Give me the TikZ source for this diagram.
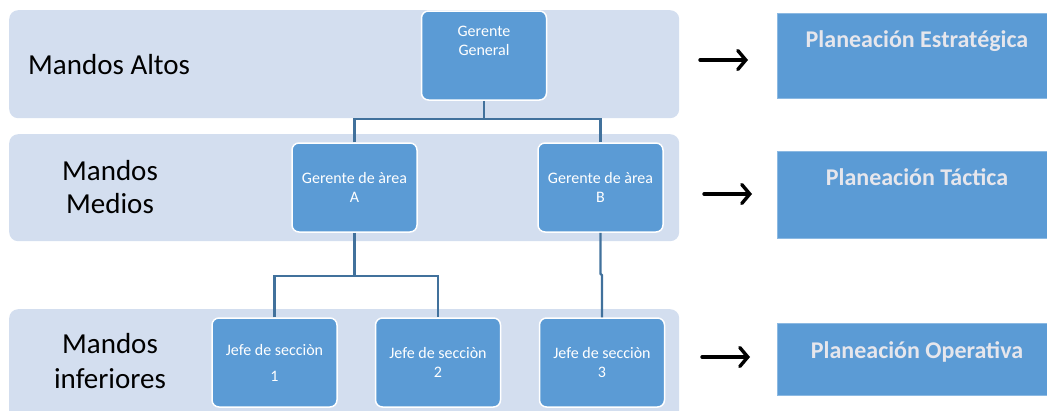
\documentclass[tikz,border=0pt]{standalone}
\usepackage{fontspec}
\setmainfont{Carlito}
\usetikzlibrary{arrows.meta,calc}
\definecolor{band}{HTML}{D3DEEF}
\definecolor{boxblue}{HTML}{5B9BD5}
\definecolor{linkblue}{HTML}{41719C}
\definecolor{softwhite}{HTML}{E6E6EC}
\begin{document}
\begin{tikzpicture}[x=1pt,y=-1pt,
  bandbox/.style={fill=band, rounded corners=9pt, inner sep=0pt, anchor=north west},
  unitbox/.style={draw=white, line width=1.5pt, fill=boxblue, rounded corners=7pt,
    minimum width=125pt, minimum height=89pt, inner sep=0pt, text=white, align=center},
  unittext/.style={font=\fontsize{16}{19}\selectfont},
  planbox/.style={fill=boxblue, draw=boxblue!70!white, line width=0.8pt, inner sep=0pt,
    anchor=north west, minimum width=290pt},
  plantext/.style={text=softwhite, font=\bfseries\fontsize{24}{28}\selectfont, anchor=base, inner sep=0pt},
  levellabel/.style={font=\fontsize{29}{33}\selectfont, inner sep=0pt, align=center},
  link/.style={draw=linkblue, line width=2.2pt},
  pointer/.style={line width=3.4pt, line cap=round,
    -{Straight Barb[length=8pt,width=19pt,line cap=round]}}
]
\useasboundingbox (0,0) rectangle (1047,410);
\clip (0,0) rectangle (1047,410);

% level bands
\node[bandbox, minimum width=670pt, minimum height=108pt] (band1) at (9,10) {};
\node[bandbox, minimum width=670pt, minimum height=107pt] (band2) at (9,134) {};
\node[bandbox, minimum width=670pt, minimum height=120pt] (band3) at (9,309) {};

% level labels
\node[levellabel, anchor=base west] (lab1) at (28,74) {Mandos Altos};
\node[levellabel, anchor=base] (lab2a) at (110,180) {Mandos};
\node[levellabel, anchor=base] (lab2b) at (110,213) {Medios};
\node[levellabel, anchor=base] (lab3a) at (110,353) {Mandos};
\node[levellabel, anchor=base] (lab3b) at (110,388) {inferiores};

% org chart boxes
\node[unitbox] (gg) at (484,55.5) {};
\node[unittext, text=white, align=center, anchor=north, inner sep=0pt] (ggt) at (484,26)
  {Gerente\\General};
\node[unitbox, unittext] (ga) at (354.5,187.5) {Gerente de àrea\\A};
\node[unitbox, unittext] (gb) at (600.5,187.5) {Gerente de àrea\\B};
\node[unitbox, font=\fontsize{16}{26}\selectfont] (j1) at (274.5,362.5) {Jefe de secciòn\\1};
\node[unitbox, unittext] (j2) at (438,362.5) {Jefe de secciòn\\2};
\node[unitbox, unittext] (j3) at (602,362.5) {Jefe de secciòn\\3};

% connectors
\coordinate (topbar) at ($(gg.south)+(0,18)$);
\draw[link] (gg.south) -- (topbar);
\draw[link] (ga.north) |- (topbar) -| (gb.north);
\coordinate (midbar) at ($(ga.south)+(0,43)$);
\draw[link] (ga.south) -- (midbar);
\draw[link] (j1.north) |- (midbar) -| (j2.north);
\draw[link] (gb.south) -- ++(0,41) -- ($(j3.north)+(0,-42)$) -- (j3.north);

% planning boxes
\node[planbox, minimum height=85pt] (pe) at (777,13) {};
\node[planbox, minimum height=87pt] (pt) at (777,151) {};
\node[planbox, minimum height=72pt] (po) at (777,323) {};
\node[plantext] (pet) at (917,47) {Planeación Estratégica};
\node[plantext] (ptt) at (917,185) {Planeación Táctica};
\node[plantext] (pot) at (917,358) {Planeación Operativa};

% arrows
\coordinate (a1s) at (700,60);
\coordinate (a1e) at (748,60);
\coordinate (a2s) at (704,194);
\coordinate (a2e) at (752,194);
\coordinate (a3s) at (702,357);
\coordinate (a3e) at (750,357);
\draw[pointer] (a1s) -- (a1e);
\draw[pointer] (a2s) -- (a2e);
\draw[pointer] (a3s) -- (a3e);
\end{tikzpicture}
\end{document}
